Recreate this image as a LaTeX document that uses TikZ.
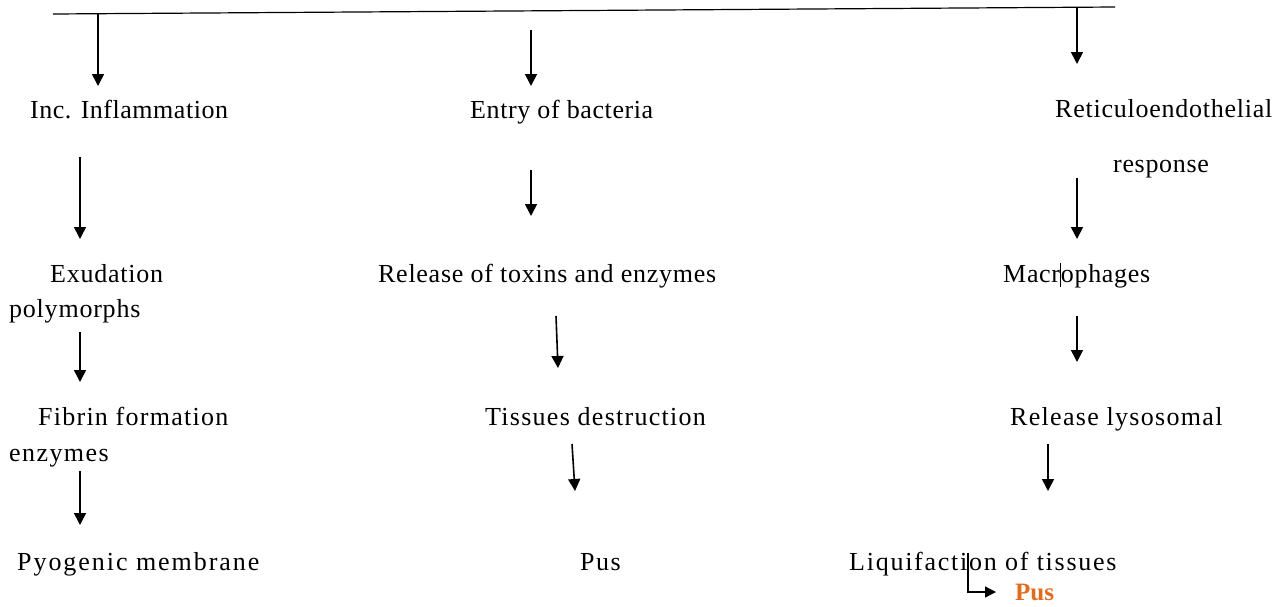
\documentclass[tikz,border=0pt]{standalone}
\usepackage{fontspec}
\setmainfont{Liberation Serif}
\usetikzlibrary{arrows.meta}
\definecolor{pusorange}{RGB}{226,108,30}
\tikzset{
  lbl/.style={anchor=base west, inner sep=0pt, font=\fontsize{26}{30}\selectfont\addfontfeatures{LetterSpace=#1}},
  lbl/.default=0,
  arr/.style={line width=1.6pt, -{Triangle[width=12pt,length=12pt]}},
}
\begin{document}
\begin{tikzpicture}[x=1pt,y=-1pt]
\useasboundingbox (0,0) rectangle (1282,606);
% top line
\coordinate (tl) at (53,14);
\coordinate (tr) at (1115,7);
\draw[line width=1.2pt] (tl) -- (tr);
% labels
\node[lbl=2] (inc) at (30,118) {Inc. Inflammation};
\node[lbl=2.3] (entry) at (470,118) {Entry of bacteria};
\node[lbl=2.9] (ret) at (1055,117) {Reticuloendothelial};
\node[lbl=2.6] (resp) at (1113,172) {response};
\node[lbl=2.9] (exu) at (50,282) {Exudation};
\node[lbl=3] (poly) at (9,317) {polymorphs};
\node[lbl=2.8] (rel) at (378,282) {Release of toxins and enzymes};
\node[lbl=2.7] (mac) at (1003,282) {Macrophages};
\node[lbl=4.8] (fib) at (38,425) {Fibrin formation};
\node[lbl=5.5] (enz) at (9,461) {enzymes};
\node[lbl=4.9] (tis) at (485,425) {Tissues destruction};
\node[lbl=5] (lys) at (1010,425) {Release lysosomal};
\node[lbl=7.5] (pyo) at (17,570) {Pyogenic membrane};
\node[lbl=5.7] (pus) at (580,570) {Pus};
\node[lbl=6.7] (liq) at (849,570) {Liquifaction of tissues};
\node[lbl, font=\fontsize{25}{28}\selectfont\bfseries, text=pusorange] (pus2) at (1015,600) {Pus};
% cursor mark
\coordinate (cu1) at (1060,263);
\coordinate (cu2) at (1060,287);
\draw[line width=0.8pt] (cu1) -- (cu2);
% arrow coordinates
\coordinate (a1s) at (98,14);   \coordinate (a1e) at (98,86);
\coordinate (a2s) at (80,157);  \coordinate (a2e) at (80,239);
\coordinate (a3s) at (80,332);  \coordinate (a3e) at (80,382);
\coordinate (a4s) at (80,471);  \coordinate (a4e) at (80,525);
\coordinate (b1s) at (531,30);  \coordinate (b1e) at (531,86);
\coordinate (b2s) at (531,170); \coordinate (b2e) at (531,216);
\coordinate (b3s) at (556,316); \coordinate (b3e) at (558,368);
\coordinate (b4s) at (572,444); \coordinate (b4e) at (575,491);
\coordinate (c1s) at (1077,8);  \coordinate (c1e) at (1077,64);
\coordinate (c2s) at (1077,178);\coordinate (c2e) at (1077,239);
\coordinate (c3s) at (1077,316);\coordinate (c3e) at (1077,362);
\coordinate (c4s) at (1048,444);\coordinate (c4e) at (1048,491);
\coordinate (e1) at (968,553);  \coordinate (e2) at (968,592); \coordinate (e3) at (996,592);
\foreach \s/\e in {a1s/a1e,a2s/a2e,a3s/a3e,a4s/a4e,b1s/b1e,b2s/b2e,b3s/b3e,b4s/b4e,c1s/c1e,c2s/c2e,c3s/c3e,c4s/c4e}
  \draw[arr] (\s) -- (\e);
\draw[line width=1.3pt, -{Triangle[width=11pt,length=11pt]}] (e1) -- (e2) -- (e3);
\end{tikzpicture}
\end{document}
